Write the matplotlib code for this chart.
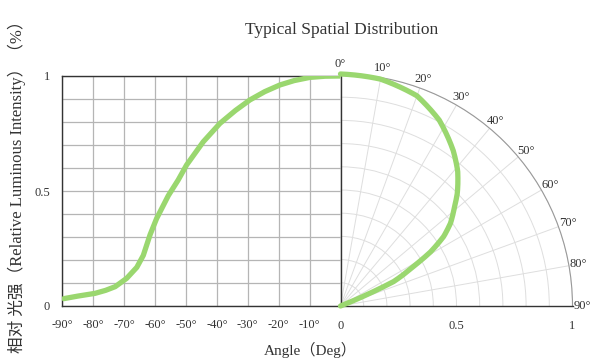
import numpy as np
import matplotlib
matplotlib.use("Agg")
import matplotlib.pyplot as plt

# Dados
angulo_esq = [-89.5, -85, -79.4, -76, -72.9, -69.2, -65.9, -63.8, -61.6, -59.5,
              -55.7, -52.5, -49.8, -44.4, -39, -34, -29.3, -24.5, -19.6, -15,
              -9.9, -5, 0]
intens_esq = [0.032, 0.043, 0.055, 0.068, 0.084, 0.12, 0.168, 0.22, 0.31, 0.38,
              0.48, 0.548, 0.613, 0.714, 0.794, 0.85, 0.896, 0.932, 0.961, 0.98,
              0.994, 0.999, 1.0]

angulo_dir = [0, 10, 20, 28, 36, 41, 46, 49, 53, 56, 59, 61.5, 65.3, 66.4, 67.5, 68]
intens_dir = [1.0, 0.993, 0.964, 0.907, 0.827, 0.77, 0.70, 0.651, 0.594, 0.537,
              0.453, 0.358, 0.252, 0.155, 0.06, 0.0]

xticks_esq = [-90, -80, -70, -60, -50, -40, -30, -20, -10]
xlabels_esq = ["-90°", "-80°", "-70°", "-60°", "-50°", "-40°", "-30°", "-20°", "-10°"]
yticks_vals = [0, 0.5, 1]
ylabels = ["0", "0.5", "1"]
theta_ticks = [0, 10, 20, 30, 40, 50, 60, 70, 80, 90]
theta_labels = ["0°", "10°", "20°", "30°", "40°", "50°", "60°", "70°", "80°", "90°"]
r_ticks = [0, 0.5, 1]
r_labels = ["0", "0.5", "1"]

verde = "#9ad76f"
serif = ["Liberation Serif", "Noto Sans CJK SC", "DejaVu Sans"]
plt.rcParams["font.family"] = serif

W, H = 602, 364
fig = plt.figure(figsize=(W / 100, H / 100), dpi=100)

# Parte cartesiana (esquerda)
ax = fig.add_axes([62.3 / W, (H - 306) / H, 278.2 / W, 230 / H])
ax.set_xlim(-90, 0)
ax.set_ylim(0, 1)
ax.set_xticks(xticks_esq, xlabels_esq)
ax.set_yticks(np.arange(0, 1.01, 0.1), minor=True)
ax.set_yticks(yticks_vals, ylabels)
ax.grid(True, which="both", color="#b5b5b5", lw=0.9)
ax.tick_params(which="both", length=0, colors="#333333", labelsize=9, pad=9)
for s in ax.spines.values():
    s.set_color("#333333")
    s.set_linewidth(1.0)
ax.plot(angulo_esq, intens_esq, color=verde, lw=3.8, solid_capstyle="round",
        solid_joinstyle="round", zorder=5)

# Parte polar (direita)
ax2 = fig.add_axes([340.5 / W, (H - 306) / H, 232 / W, 232 / H], projection="polar")
ax2.set_theta_zero_location("N")
ax2.set_theta_direction(-1)
ax2.set_thetamin(0)
ax2.set_thetamax(90)
ax2.set_rlim(0, 1)
ax2.set_thetagrids(theta_ticks, theta_labels)
ax2.set_rgrids(np.arange(0.1, 1.01, 0.1), labels=[""] * 10)
ax2.grid(True, color="#dedede", lw=0.7)
ax2.tick_params(axis="x", colors="#333333", labelsize=9, pad=-3.5)
ax2.spines["polar"].set_color("#999999")
ax2.spines["polar"].set_linewidth(0.8)
for k in ["start", "end"]:
    ax2.spines[k].set_color("#333333")
    ax2.spines[k].set_linewidth(1.0)
linha, = ax2.plot(np.deg2rad(angulo_dir), intens_dir, color=verde, lw=3.8,
                  solid_capstyle="round", solid_joinstyle="round", zorder=5,
                  clip_on=False)
# curva suave entre os pontos no eixo polar
linha.get_path()._interpolation_steps = 40
for r, lbl in zip(r_ticks, r_labels):
    ax2.annotate(lbl, xy=(np.pi / 2, r), xytext=(0, -10), textcoords="offset points",
                 ha="center", va="top", fontsize=9, color="#333333")

# Textos
fig.text(342 / W, 1 - 30 / H, "Typical Spatial Distribution", ha="center", va="center",
         fontsize=12.5, color="#333333")
fig.text(310 / W, 1 - 350 / H, "Angle（Deg）", ha="center", va="center",
         fontsize=11, color="#333333")
fig.text(17 / W, 1 - 183 / H, "相对 光强（Relative Luminous Intensity）（%）", rotation=90,
         ha="center", va="center", fontsize=12, color="#333333")

fig.savefig("out.png", dpi=100)
